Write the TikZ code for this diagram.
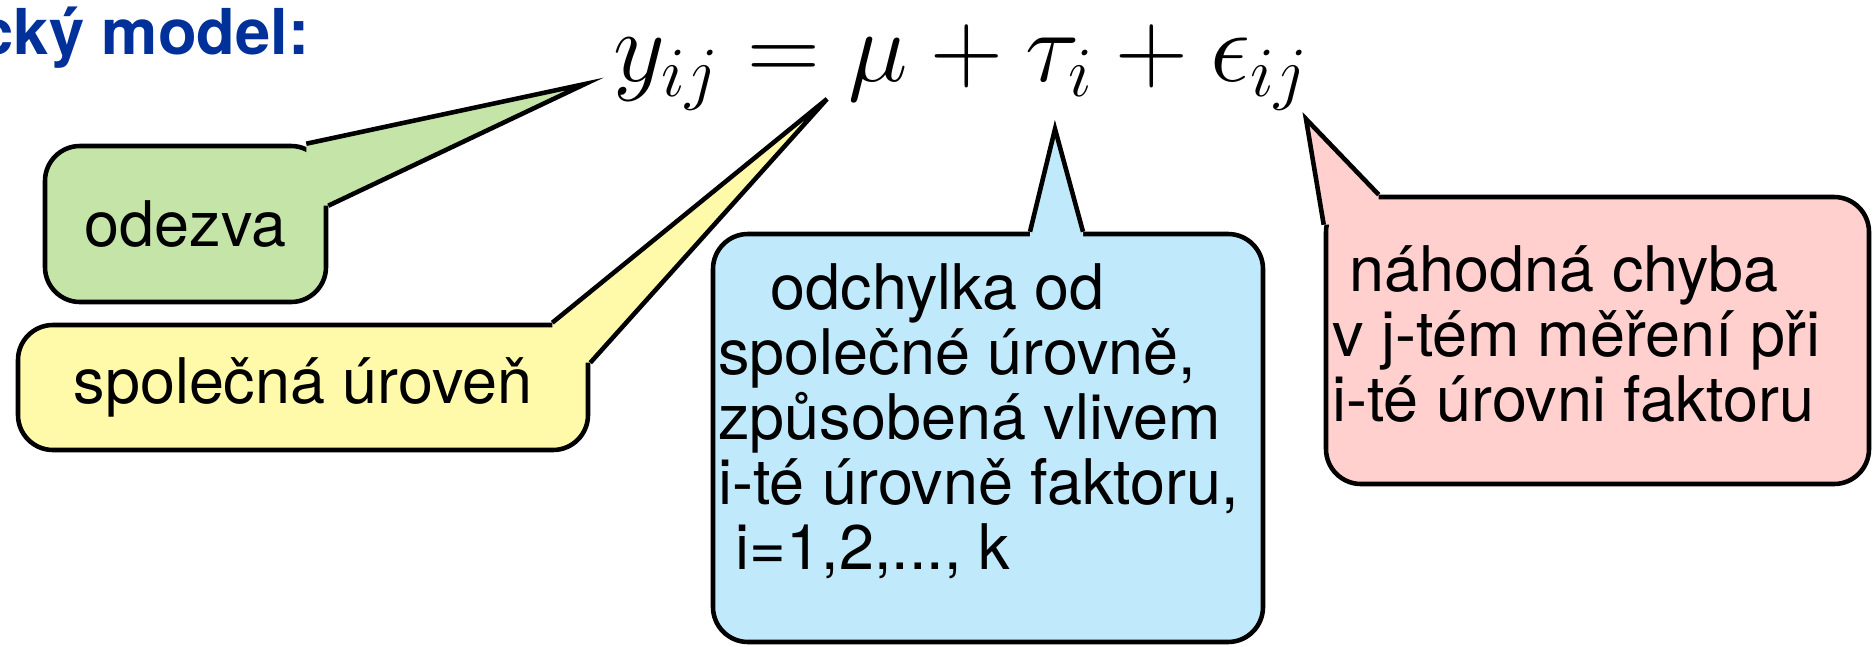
\RequirePackage{fix-cm}
\documentclass[tikz,border=0pt]{standalone}
\usepackage[no-math]{fontspec}
\setmainfont{TeX Gyre Heros}
\usetikzlibrary{calc}
\definecolor{cgreen}{RGB}{197,229,168}
\definecolor{cyellow}{RGB}{255,250,170}
\definecolor{cblue}{RGB}{192,234,251}
\definecolor{cred}{RGB}{255,208,206}
\definecolor{ctitle}{RGB}{0,48,153}

\begin{document}
\begin{tikzpicture}[
  bubble/.style={rectangle, draw=black, line width=1.3pt, rounded corners=0.35cm, inner sep=0pt, font=\fontsize{17.9}{18.5}\selectfont},
  btext/.style={inner sep=0pt, align=left, anchor=north west, font=\fontsize{17.9}{18.5}\selectfont},
  tail/.style={draw=black, line width=1.3pt, line join=miter},
]
\useasboundingbox (0,0) rectangle (18.73,6.46);

% ---- title and model equation
\node[anchor=base east, font=\fontsize{18}{20}\selectfont\bfseries, text=ctitle, inner sep=0pt] (title) at (3.10,5.91) {cký model:};
\node[anchor=base west, font=\fontsize{28.7}{30}\selectfont, inner sep=0pt] (eq) at (6.13,5.65) {$y_{ij} = \mu + \tau_i + \epsilon_{ij}$};

% ---- where the callouts point
\coordinate (tipY)   at (5.85,5.62);
\coordinate (tipMu)  at (8.27,5.47);
\coordinate (tipTau) at (10.55,5.17);
\coordinate (tipEps) at (13.06,5.27);

% ---- callout boxes
\node[bubble, fill=cgreen,  minimum width=2.81cm, minimum height=1.56cm] (resp)  at (1.855,4.22)  {odezva};
\node[bubble, fill=cyellow, minimum width=5.70cm, minimum height=1.25cm] (level) at (3.03,2.585)  {společná úroveň};
\node[bubble, fill=cblue,   minimum width=5.50cm, minimum height=4.08cm] (dev)   at (9.88,2.08)   {};
\node[bubble, fill=cred,    minimum width=5.43cm, minimum height=2.87cm] (err)   at (15.975,3.055) {};

\node[btext] (devtxt) at ($(dev.north west)+(0.07,-0.31)$) {\ \ \ odchylka od\\společné úrovně,\\způsobená vlivem\\i-té úrovně faktoru,\\\ i=1,2,..., k};
\node[btext] (errtxt) at ($(err.north west)+(0.08,-0.50)$) {\ náhodná chyba\\v j-tém měření při\\i-té úrovni faktoru};

% ---- tails: base points on the boxes
\coordinate (respA)  at ($(resp.north east)+(-0.22,0)$);
\coordinate (respB)  at ($(resp.north east)+(0,-0.62)$);
\coordinate (levelA) at ($(level.north east)+(-0.38,0)$);
\coordinate (levelB) at ($(level.north east)+(0,-0.40)$);
\coordinate (devA)   at ($(dev.north)+(0.42,0)$);
\coordinate (devB)   at ($(dev.north)+(0.95,0)$);
\coordinate (errA)   at ($(err.north west)+(0,-0.30)$);
\coordinate (errB)   at ($(err.north west)+(0.55,0)$);

\fill[cgreen]  (respA) -- (tipY) -- (respB) -- (respA |- respB) -- cycle;
\draw[tail]    (respA) -- (tipY) -- (respB);
\fill[cyellow] (levelA) -- (tipMu) -- (levelB) -- (levelA |- levelB) -- cycle;
\draw[tail]    (levelA) -- (tipMu) -- (levelB);
\fill[cblue]   (devA) -- (tipTau) -- (devB) -- ($(devB)+(0,-0.1)$) -- ($(devA)+(0,-0.1)$) -- cycle;
\draw[tail]    (devA) -- (tipTau) -- (devB);
\fill[cred]    (errA) -- (tipEps) -- (errB) -- (errB |- errA) -- cycle;
\draw[tail]    (errA) -- (tipEps) -- (errB);

\end{tikzpicture}
\end{document}
